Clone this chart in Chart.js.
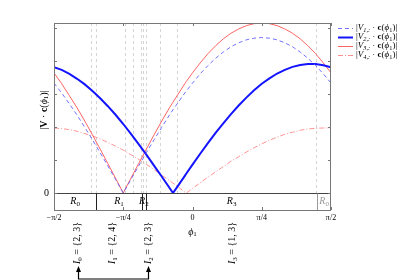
<!DOCTYPE html>
<html>
<head>
<meta charset="utf-8">
<script src="https://cdn.jsdelivr.net/npm/chart.js@4.4.1/dist/chart.umd.min.js"></script>
<style>
  html, body { margin: 0; padding: 0; background: #fff; }
  #wrap { width: 415px; height: 280px; }
</style>
</head>
<body>
<div id="wrap"><canvas id="c" width="415" height="280"></canvas></div>
<script>
// phi1 in degrees (axis runs -pi/2 .. pi/2)
const phi = [-90,-85,-80,-75,-70,-65,-60,-55,-50,-45,-40,-35,-30,-25,-20,-15,-12.7,-10,-5,-4,0,5,10,15,20,25,30,35,40,45,50,55,60,65,70,75,80,85,90];
const v1 = [3.33,3.03,2.70,2.36,1.99,1.61,1.22,0.82,0.41,0,0.41,0.82,1.22,1.61,1.99,2.36,2.52,2.70,3.03,3.09,3.33,3.61,3.86,4.08,4.27,4.43,4.55,4.64,4.69,4.71,4.69,4.64,4.55,4.43,4.27,4.08,3.86,3.61,3.33];
const v2 = [3.81,3.73,3.61,3.46,3.29,3.09,2.87,2.63,2.37,2.09,1.79,1.48,1.16,0.83,0.50,0.16,0,0.18,0.52,0.59,0.86,1.19,1.51,1.82,2.11,2.39,2.65,2.89,3.11,3.31,3.47,3.62,3.73,3.82,3.88,3.91,3.91,3.87,3.81];
const v3 = [3.64,3.31,2.95,2.58,2.18,1.76,1.33,0.89,0.45,0,0.45,0.89,1.33,1.76,2.18,2.58,2.75,2.95,3.31,3.38,3.64,3.94,4.22,4.46,4.67,4.84,4.97,5.07,5.13,5.15,5.13,5.07,4.97,4.84,4.67,4.46,4.22,3.94,3.64];
const v4 = [1.97,1.95,1.92,1.87,1.80,1.73,1.64,1.53,1.42,1.30,1.16,1.02,0.87,0.71,0.54,0.38,0.30,0.21,0.03,0,0.14,0.31,0.48,0.64,0.80,0.96,1.10,1.24,1.37,1.49,1.60,1.69,1.78,1.84,1.90,1.94,1.96,1.97,1.97];

const seriesSub = ['1,:', '2,:', '3,:', '4,:'];
const xTicks = [-90, -45, 0, 45, 90];
const xTickLabels = ['−π/2', '−π/4', '0', 'π/4', 'π/2'];
const yTicks = [0, 1, 2, 3, 4, 5];

// breakpoints (dashed) and regions
const breakPhi = [-65.7, -62.7, -43.9, -38.4, -33.3, -31.9, -30.3, -21.3, -10.3, 80.5];
const regionEdges = [-90, -62.5, -33.1, -30.1, 81.0, 90];
const regionNames = ['0', '1', '2', '3', '0'];
const indexPhi = [-74.7, -51.9, -28.8, 26.1];
const indexSets = ['{2, 3}', '{2, 4}', '{2, 3}', '{1, 3}'];

const FONT = '"Liberation Serif", "DejaVu Serif", serif';

function rich(ctx, x, y, parts, size, align) {
  let w = 0;
  const segs = parts.map(([t, st]) => {
    const small = st.includes('s');
    const sz = small ? size * 0.7 : size;
    const font = (st.includes('i') ? 'italic ' : '') + (st.includes('b') ? 'bold ' : '') + sz + 'px ' + FONT;
    ctx.font = font;
    const mw = ctx.measureText(t).width;
    w += mw;
    return { t, font, mw, dy: small ? size * 0.25 : 0 };
  });
  let cx = align === 'center' ? x - w / 2 : x;
  ctx.textAlign = 'left';
  ctx.textBaseline = 'middle';
  segs.forEach(s => { ctx.font = s.font; ctx.fillText(s.t, cx, y + s.dy); cx += s.mw; });
}

function pts(vals) { return phi.map((p, i) => ({ x: p, y: vals[i] })); }

const styles = [
  { color: 'rgba(90,90,255,0.85)', width: 1, dash: [4, 3] },
  { color: '#1414ff', width: 2, dash: [] },
  { color: '#ff6464', width: 1, dash: [] },
  { color: 'rgba(255,120,120,0.8)', width: 1, dash: [5, 2, 1, 2] }
];

const decor = {
  id: 'decor',
  beforeDatasetsDraw(chart) {
    const { ctx, scales: { x, y }, chartArea: a } = chart;
    const y0 = y.getPixelForValue(0);
    ctx.save();
    ctx.strokeStyle = '#d4d4d4';
    ctx.lineWidth = 1;
    ctx.setLineDash([3, 3]);
    breakPhi.forEach(p => {
      const px = Math.round(x.getPixelForValue(p)) + 0.5;
      ctx.beginPath(); ctx.moveTo(px, a.top); ctx.lineTo(px, y0); ctx.stroke();
    });
    ctx.restore();
  },
  afterDatasetsDraw(chart) {
    const { ctx, scales: { x, y }, chartArea: a } = chart;
    const y0 = Math.round(y.getPixelForValue(0)) + 0.5;
    ctx.save();
    // region bar
    ctx.fillStyle = '#fff';
    ctx.fillRect(a.left, y0, a.right - a.left, a.bottom - y0);
    ctx.strokeStyle = '#444';
    ctx.lineWidth = 1;
    ctx.beginPath(); ctx.moveTo(a.left, y0); ctx.lineTo(a.right, y0); ctx.stroke();
    for (let i = 1; i < regionEdges.length - 1; i++) {
      const px = Math.round(x.getPixelForValue(regionEdges[i])) + 0.5;
      ctx.strokeStyle = i === regionEdges.length - 2 ? '#999' : '#222';
      ctx.beginPath(); ctx.moveTo(px, y0); ctx.lineTo(px, a.bottom); ctx.stroke();
    }
    regionNames.forEach((n, i) => {
      const cx = (x.getPixelForValue(regionEdges[i]) + x.getPixelForValue(regionEdges[i + 1])) / 2;
      ctx.fillStyle = i === regionNames.length - 1 ? '#999' : '#000';
      rich(ctx, cx, (y0 + a.bottom) / 2, [['R', 'i'], [n, 's']], 10, 'center');
    });
    // frame and ticks
    ctx.strokeStyle = '#777';
    ctx.strokeRect(a.left + 0.5, a.top + 0.5, a.right - a.left - 1, a.bottom - a.top);
    ctx.beginPath();
    yTicks.forEach(v => {
      const py = Math.round(y.getPixelForValue(v)) + 0.5;
      ctx.moveTo(a.left, py); ctx.lineTo(a.left + 3, py);
      ctx.moveTo(a.right, py); ctx.lineTo(a.right - 3, py);
    });
    xTicks.forEach(v => {
      const px = Math.round(x.getPixelForValue(v)) + 0.5;
      ctx.moveTo(px, a.top); ctx.lineTo(px, a.top + 3);
      ctx.moveTo(px, a.bottom); ctx.lineTo(px, a.bottom - 3);
    });
    ctx.stroke();

    ctx.fillStyle = '#000';
    // axis titles
    rich(ctx, x.getPixelForValue(0), 232, [['ϕ', 'i'], ['1', 's']], 10, 'center');
    ctx.save();
    ctx.translate(44, 110);
    ctx.rotate(-Math.PI / 2);
    rich(ctx, 0, 0, [['|', 'r'], ['V', 'b'], [' · ', 'r'], ['c', 'b'], ['(', 'r'], ['ϕ', 'i'], ['1', 's'], [')|', 'r']], 10, 'center');
    ctx.restore();

    // index set labels
    indexPhi.forEach((p, i) => {
      ctx.save();
      ctx.translate(x.getPixelForValue(p), 264);
      ctx.rotate(-Math.PI / 2);
      rich(ctx, 0, 0, [['I', 'i'], [String(i), 's'], [' = ' + indexSets[i], 'r']], 10, 'left');
      ctx.restore();
    });
    // bracket between equal index sets I0 and I2
    const xa = Math.round(x.getPixelForValue(indexPhi[0])) + 0.5;
    const xb = Math.round(x.getPixelForValue(indexPhi[2])) + 0.5;
    ctx.strokeStyle = '#000';
    ctx.lineWidth = 1.2;
    ctx.beginPath();
    ctx.moveTo(xa, 270); ctx.lineTo(xa, 279); ctx.lineTo(xb, 279); ctx.lineTo(xb, 270);
    ctx.stroke();
    [xa, xb].forEach(px => {
      ctx.beginPath(); ctx.moveTo(px, 266); ctx.lineTo(px - 2.5, 272); ctx.lineTo(px + 2.5, 272); ctx.closePath(); ctx.fill();
    });

    // legend
    seriesSub.forEach((s, i) => {
      const ly = 28 + i * 9;
      const st = styles[i];
      ctx.strokeStyle = st.color; ctx.lineWidth = st.width; ctx.setLineDash(st.dash);
      ctx.beginPath(); ctx.moveTo(338, ly + 0.5); ctx.lineTo(353, ly + 0.5); ctx.stroke();
      ctx.setLineDash([]);
      ctx.fillStyle = '#000';
      rich(ctx, 356, ly, [['|', 'r'], ['V', 'i'], [s, 'is'], [' · ', 'r'], ['c', 'b'], ['(', 'r'], ['ϕ', 'i'], ['1', 's'], [')|', 'r']], 9, 'left');
    });
    ctx.restore();
  }
};

new Chart(document.getElementById('c'), {
  type: 'line',
  data: {
    datasets: [v1, v2, v3, v4].map((vals, i) => ({
      label: 'V' + (i + 1),
      data: pts(vals),
      borderColor: styles[i].color,
      borderWidth: styles[i].width,
      borderDash: styles[i].dash,
      pointRadius: 0,
      tension: 0,
      fill: false
    }))
  },
  options: {
    responsive: false,
    animation: false,
    layout: { padding: { left: 0, right: 84, top: 23, bottom: 0 } },
    plugins: { legend: { display: false }, tooltip: { enabled: false } },
    scales: {
      x: {
        type: 'linear', min: -90, max: 90,
        afterFit: s => { s.height = 70; },
        afterBuildTicks: s => { s.ticks = xTicks.map(v => ({ value: v })); },
        ticks: {
          callback: v => { const k = xTicks.indexOf(v); return k < 0 ? '' : xTickLabels[k]; },
          maxRotation: 0, autoSkip: false, padding: 3,
          font: { family: FONT, size: 8 }, color: '#000'
        },
        grid: { display: false, drawTicks: false }, border: { display: false }
      },
      y: {
        min: -0.515, max: 5.15,
        afterFit: s => { s.width = 54; },
        afterBuildTicks: s => { s.ticks = yTicks.map(v => ({ value: v })); },
        ticks: { callback: v => (v === 0 ? '0' : ''), padding: 5, font: { family: FONT, size: 10 }, color: '#000' },
        grid: { display: false, drawTicks: false }, border: { display: false }
      }
    }
  },
  plugins: [decor]
});
</script>
</body>
</html>
